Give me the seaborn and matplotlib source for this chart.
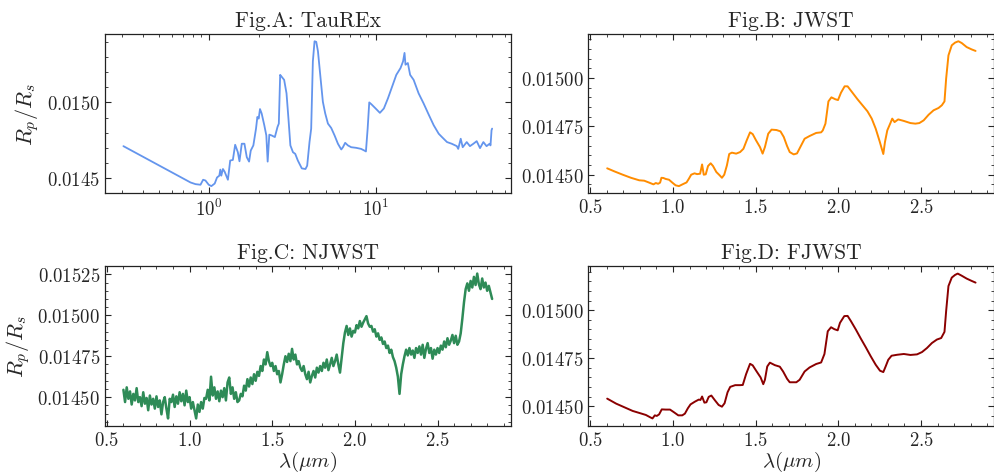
import numpy as np
import pandas as pd
import matplotlib
matplotlib.use("Agg")
import matplotlib.pyplot as plt
import seaborn as sns
from matplotlib.ticker import MultipleLocator

# --- datos ---
# Fig.A: espectro TauREx (eje x logaritmico)
wl_a = [0.306, 0.774, 0.829, 0.888, 0.921, 0.951, 0.995, 1.032, 1.081, 1.116,
        1.152, 1.168, 1.184, 1.211, 1.24, 1.297, 1.339, 1.389, 1.434, 1.488,
        1.522, 1.571, 1.63, 1.684, 1.738, 1.779, 1.844, 1.913, 1.949, 1.985,
        2.021, 2.068, 2.145, 2.206, 2.247, 2.299, 2.372, 2.482, 2.575, 2.622,
        2.671, 2.72, 2.822, 2.916, 2.995, 3.076, 3.188, 3.29, 3.41, 3.603,
        3.79, 3.88, 4.007, 4.101, 4.197, 4.296, 4.398, 4.503, 4.668, 4.82,
        4.979, 5.169, 5.409, 5.665, 5.934, 6.215, 6.36, 6.56, 6.81, 7.13,
        7.63, 8.17, 8.55, 8.74, 8.95, 9.15, 9.44, 9.99, 10.6, 11.2,
        11.85, 12.55, 13.3, 14.1, 14.6, 14.9, 15.1, 15.6, 16.1, 16.9,
        18.1, 19.4, 20.8, 22.3, 23.9, 25.0, 26.8, 28.6, 30.7, 31.3,
        32.4, 33.3, 35.2, 36.8, 38.6, 40.4, 42.3, 44.3, 46.3, 48.3,
        48.9, 49.6, 50.0]
rp_a = [0.014711, 0.014471, 0.014460, 0.014456, 0.014489, 0.014484, 0.014456, 0.014447, 0.014464, 0.014504,
        0.014516, 0.014556, 0.014516, 0.014560, 0.014542, 0.014489, 0.014616, 0.014620, 0.014720, 0.014671,
        0.014611, 0.014727, 0.014727, 0.014638, 0.014609, 0.014682, 0.014716, 0.014827, 0.014904, 0.014893,
        0.014956, 0.014927, 0.014849, 0.014782, 0.014609, 0.014787, 0.014782, 0.014771, 0.014838, 0.014860,
        0.015182, 0.015171, 0.015149, 0.015060, 0.014893, 0.014716, 0.014671, 0.014660, 0.014616, 0.014564,
        0.014560, 0.014582, 0.014738, 0.014827, 0.015271, 0.015404, 0.015400, 0.015338, 0.015160, 0.015004,
        0.014927, 0.014860, 0.014831, 0.014782, 0.014727, 0.014689, 0.014704, 0.014733, 0.014716, 0.014704,
        0.014700, 0.014693, 0.014682, 0.014676, 0.014827, 0.015000, 0.014987, 0.014960, 0.014931, 0.014960,
        0.015027, 0.015104, 0.015182, 0.015227, 0.015271, 0.015327, 0.015249, 0.015260, 0.015182, 0.015149,
        0.015060, 0.014993, 0.014920, 0.014849, 0.014793, 0.014771, 0.014738, 0.014727, 0.014711, 0.014693,
        0.014760, 0.014704, 0.014738, 0.014711, 0.014727, 0.014744, 0.014698, 0.014738, 0.014711, 0.014727,
        0.014716, 0.014816, 0.014827]

# Fig.B: JWST
wl_b = [0.602, 0.646, 0.696, 0.746, 0.796, 0.826, 0.856, 0.882, 0.896, 0.91,
        0.922, 0.93, 0.942, 0.956, 0.976, 0.996, 1.016, 1.036, 1.062, 1.082,
        1.096, 1.11, 1.13, 1.146, 1.164, 1.176, 1.186, 1.198, 1.212, 1.228,
        1.242, 1.262, 1.282, 1.296, 1.31, 1.326, 1.34, 1.356, 1.382, 1.406,
        1.426, 1.446, 1.466, 1.482, 1.502, 1.526, 1.542, 1.556, 1.576, 1.596,
        1.626, 1.65, 1.67, 1.69, 1.706, 1.73, 1.75, 1.77, 1.796, 1.826,
        1.866, 1.896, 1.906, 1.922, 1.94, 1.958, 1.982, 1.998, 2.016, 2.038,
        2.056, 2.082, 2.116, 2.146, 2.176, 2.202, 2.226, 2.25, 2.272, 2.282,
        2.296, 2.316, 2.326, 2.34, 2.362, 2.396, 2.436, 2.466, 2.49, 2.516,
        2.546, 2.576, 2.606, 2.626, 2.642, 2.652, 2.666, 2.686, 2.706, 2.726,
        2.746, 2.776, 2.806, 2.83]
rp_b = [0.014533, 0.014517, 0.014500, 0.014484, 0.014471, 0.014469, 0.014459, 0.014450, 0.014457, 0.014453,
        0.014459, 0.014484, 0.014483, 0.014478, 0.014474, 0.014459, 0.014445, 0.014441, 0.014452, 0.014460,
        0.014479, 0.014500, 0.014507, 0.014503, 0.014505, 0.014553, 0.014500, 0.014502, 0.014545, 0.014559,
        0.014545, 0.014514, 0.014497, 0.014484, 0.014500, 0.014548, 0.014607, 0.014614, 0.014609, 0.014617,
        0.014634, 0.014678, 0.014719, 0.014710, 0.014678, 0.014643, 0.014609, 0.014643, 0.014712, 0.014733,
        0.014731, 0.014724, 0.014695, 0.014648, 0.014617, 0.014605, 0.014610, 0.014643, 0.014686, 0.014700,
        0.014716, 0.014719, 0.014729, 0.014764, 0.014879, 0.014900, 0.014890, 0.014886, 0.014924, 0.014957,
        0.014957, 0.014928, 0.014890, 0.014859, 0.014828, 0.014790, 0.014738, 0.014672, 0.014607, 0.014669,
        0.014729, 0.014769, 0.014790, 0.014772, 0.014786, 0.014778, 0.014767, 0.014764, 0.014767, 0.014781,
        0.014810, 0.014833, 0.014845, 0.014859, 0.014879, 0.014997, 0.015117, 0.015169, 0.015183, 0.015190,
        0.015181, 0.015160, 0.015148, 0.015140]

# Fig.C: NJWST (espectro con ruido), rejilla de 0.60 a 2.83 um
wl_c = np.linspace(0.60, 2.83, 224)
rp_c = [0.014545, 0.014470, 0.014560, 0.014490, 0.014535, 0.014455, 0.014520, 0.014480, 0.014555, 0.014470,
        0.014500, 0.014445, 0.014530, 0.014460, 0.014495, 0.014420, 0.014510, 0.014455, 0.014490, 0.014430,
        0.014505, 0.014440, 0.014480, 0.014395, 0.014470, 0.014500, 0.014430, 0.014370, 0.014490, 0.014470,
        0.014515, 0.014440, 0.014505, 0.014460, 0.014530, 0.014475, 0.014520, 0.014450, 0.014540, 0.014470,
        0.014500, 0.014430, 0.014470, 0.014420, 0.014370, 0.014455, 0.014410, 0.014470, 0.014430, 0.014495,
        0.014490, 0.014545, 0.014480, 0.014625, 0.014510, 0.014560, 0.014490, 0.014535, 0.014475, 0.014540,
        0.014500, 0.014555, 0.014480, 0.014590, 0.014620, 0.014520, 0.014560, 0.014490, 0.014530, 0.014470,
        0.014480, 0.014520, 0.014505, 0.014570, 0.014540, 0.014610, 0.014565, 0.014620, 0.014580, 0.014640,
        0.014600, 0.014655, 0.014630, 0.014690, 0.014660, 0.014730, 0.014700, 0.014775, 0.014720, 0.014690,
        0.014710, 0.014660, 0.014690, 0.014640, 0.014660, 0.014590, 0.014640, 0.014700, 0.014750, 0.014715,
        0.014765, 0.014720, 0.014795, 0.014730, 0.014760, 0.014700, 0.014720, 0.014680, 0.014660, 0.014690,
        0.014640, 0.014610, 0.014655, 0.014590, 0.014630, 0.014660, 0.014620, 0.014680, 0.014650, 0.014690,
        0.014660, 0.014710, 0.014680, 0.014730, 0.014665, 0.014700, 0.014740, 0.014690, 0.014720, 0.014760,
        0.014700, 0.014650, 0.014740, 0.014830, 0.014895, 0.014935, 0.014880, 0.014920, 0.014870, 0.014905,
        0.014895, 0.014940, 0.014920, 0.014965, 0.014930, 0.014955, 0.014975, 0.014995, 0.014950, 0.014930,
        0.014935, 0.014900, 0.014915, 0.014870, 0.014890, 0.014850, 0.014865, 0.014825, 0.014840, 0.014800,
        0.014815, 0.014770, 0.014790, 0.014745, 0.014720, 0.014680, 0.014625, 0.014520, 0.014640, 0.014700,
        0.014750, 0.014790, 0.014755, 0.014800, 0.014760, 0.014785, 0.014740, 0.014800, 0.014770, 0.014810,
        0.014760, 0.014820, 0.014740, 0.014795, 0.014830, 0.014770, 0.014800, 0.014735, 0.014790, 0.014760,
        0.014800, 0.014770, 0.014815, 0.014790, 0.014840, 0.014805, 0.014860, 0.014820, 0.014845, 0.014880,
        0.014830, 0.014875, 0.014820, 0.014840, 0.014890, 0.014980, 0.015080, 0.015160, 0.015195, 0.015150,
        0.015210, 0.015170, 0.015235, 0.015185, 0.015255, 0.015190, 0.015160, 0.015225, 0.015170, 0.015200,
        0.015150, 0.015180, 0.015140, 0.015100]

# Fig.D: FJWST
wl_d = [0.602, 0.656, 0.706, 0.756, 0.806, 0.836, 0.862, 0.876, 0.89, 0.902,
        0.916, 0.932, 0.956, 0.982, 1.006, 1.032, 1.056, 1.072, 1.09, 1.106,
        1.132, 1.156, 1.166, 1.176, 1.19, 1.202, 1.216, 1.232, 1.252, 1.276,
        1.296, 1.312, 1.33, 1.346, 1.376, 1.406, 1.422, 1.442, 1.466, 1.482,
        1.506, 1.53, 1.546, 1.556, 1.57, 1.586, 1.616, 1.646, 1.666, 1.69,
        1.706, 1.746, 1.766, 1.796, 1.826, 1.866, 1.896, 1.916, 1.936, 1.956,
        1.976, 1.996, 2.01, 2.036, 2.056, 2.076, 2.106, 2.136, 2.166, 2.196,
        2.226, 2.252, 2.272, 2.286, 2.302, 2.322, 2.356, 2.396, 2.436, 2.476,
        2.506, 2.536, 2.566, 2.596, 2.622, 2.642, 2.652, 2.666, 2.686, 2.706,
        2.722, 2.746, 2.776, 2.806, 2.83]
rp_d = [0.014540, 0.014514, 0.014495, 0.014476, 0.014463, 0.014455, 0.014443, 0.014437, 0.014453, 0.014450,
        0.014458, 0.014484, 0.014483, 0.014483, 0.014469, 0.014453, 0.014453, 0.014462, 0.014490, 0.014510,
        0.014524, 0.014535, 0.014533, 0.014551, 0.014519, 0.014521, 0.014549, 0.014556, 0.014533, 0.014507,
        0.014498, 0.014516, 0.014573, 0.014601, 0.014610, 0.014610, 0.014611, 0.014667, 0.014721, 0.014713,
        0.014681, 0.014650, 0.014615, 0.014638, 0.014707, 0.014727, 0.014714, 0.014706, 0.014681, 0.014643,
        0.014625, 0.014625, 0.014638, 0.014681, 0.014702, 0.014720, 0.014728, 0.014772, 0.014890, 0.014911,
        0.014901, 0.014895, 0.014934, 0.014969, 0.014970, 0.014943, 0.014899, 0.014852, 0.014807, 0.014760,
        0.014716, 0.014685, 0.014678, 0.014707, 0.014742, 0.014763, 0.014768, 0.014772, 0.014767, 0.014770,
        0.014782, 0.014803, 0.014829, 0.014847, 0.014855, 0.014887, 0.014995, 0.015125, 0.015169, 0.015183,
        0.015190, 0.015179, 0.015164, 0.015152, 0.015143]

titulos = ["Fig.A: TauREx", "Fig.B: JWST", "Fig.C: NJWST", "Fig.D: FJWST"]
colores = ["cornflowerblue", "darkorange", "seagreen", "darkred"]
grosores = [1.3, 1.4, 1.8, 1.4]

# --- estilo ---
sns.set_style("ticks")
plt.rcParams.update({
    "font.family": "serif",
    "font.serif": ["cmr10", "DejaVu Serif"],
    "mathtext.fontset": "cm",
    "axes.formatter.use_mathtext": True,
    "axes.linewidth": 0.9,
    "axes.edgecolor": "#222222",
    "xtick.direction": "in",
    "ytick.direction": "in",
    "xtick.top": True,
    "ytick.right": True,
    "xtick.minor.visible": True,
    "ytick.minor.visible": True,
    "xtick.major.size": 4,
    "ytick.major.size": 4,
    "xtick.minor.size": 2.2,
    "ytick.minor.size": 2.2,
    "xtick.major.width": 0.8,
    "ytick.major.width": 0.8,
    "xtick.minor.width": 0.6,
    "ytick.minor.width": 0.6,
    "xtick.labelsize": 13.5,
    "ytick.labelsize": 13.5,
})

fig, axes = plt.subplots(2, 2, figsize=(9.95, 4.77), dpi=100)
fig.subplots_adjust(left=0.1055, right=0.999, bottom=0.1055, top=0.9266,
                    wspace=0.192, hspace=0.458)

series = [(wl_a, rp_a), (wl_b, rp_b), (wl_c, rp_c), (wl_d, rp_d)]
for ax, (wl, rp), titulo, color, lw in zip(axes.flat, series, titulos, colores, grosores):
    df = pd.DataFrame({"wl": wl, "rp": rp})
    sns.lineplot(data=df, x="wl", y="rp", color=color, lw=lw, ax=ax,
                 estimator=None, sort=False)
    ax.set_title(titulo, fontsize=15.5, pad=6)
    ax.set_xlabel("")
    ax.set_ylabel("")

ax_a, ax_b, ax_c, ax_d = axes.flat

ax_a.set_xscale("log")
ax_a.yaxis.set_major_locator(MultipleLocator(0.0005))
ax_a.yaxis.set_minor_locator(MultipleLocator(0.0001))

for ax in (ax_b, ax_c, ax_d):
    ax.xaxis.set_major_locator(MultipleLocator(0.5))
    ax.xaxis.set_minor_locator(MultipleLocator(0.1))
    ax.yaxis.set_major_locator(MultipleLocator(0.00025))
    ax.yaxis.set_minor_locator(MultipleLocator(0.00005))
    ax.set_xlim(0.4885, 2.9415)

for ax in (ax_a, ax_c):
    ax.set_ylabel(r"$R_p/R_s$", fontsize=16)
for ax in (ax_c, ax_d):
    ax.set_xlabel(r"$\lambda (\mu m)$", fontsize=15, labelpad=0)

fig.savefig("out.png", dpi=100)
